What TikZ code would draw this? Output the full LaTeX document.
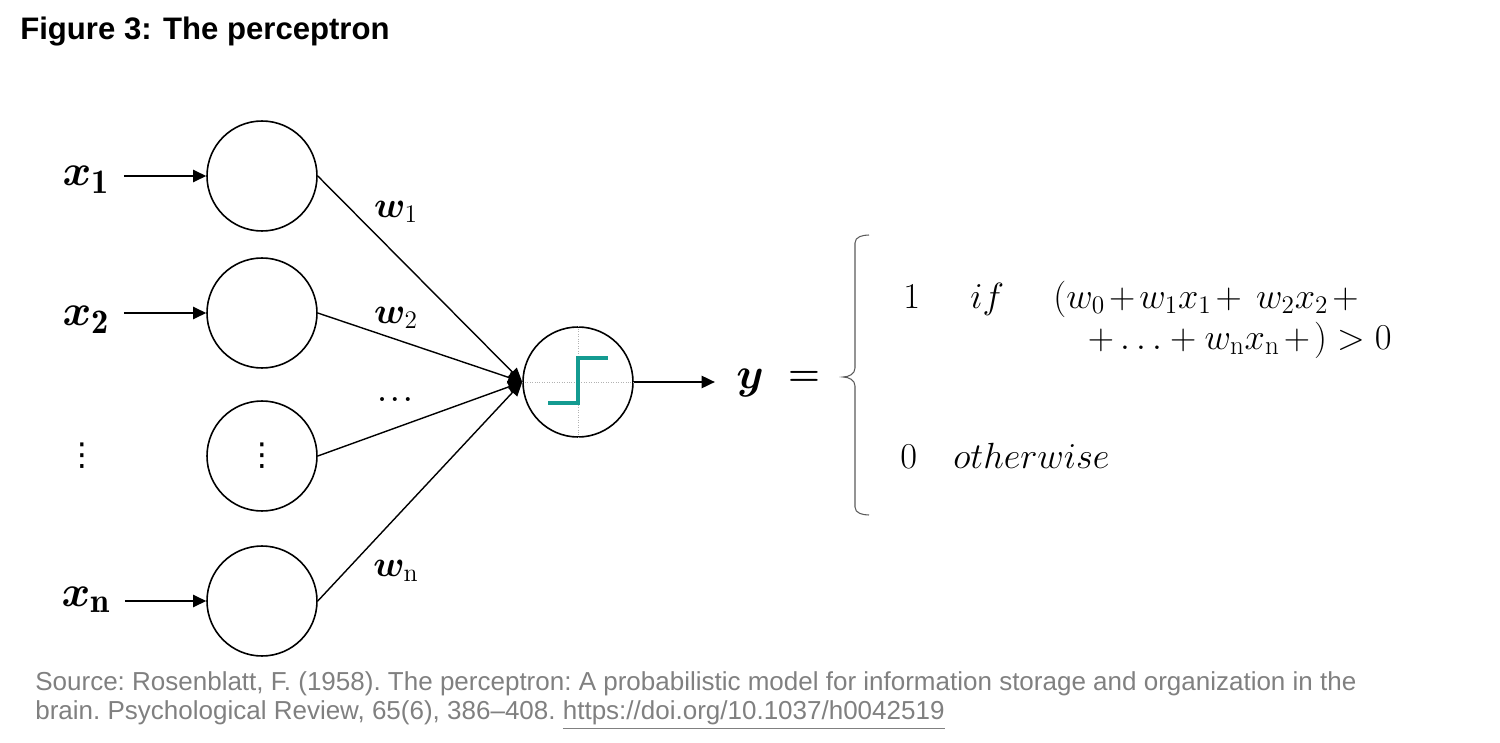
\documentclass[tikz,border=0pt]{standalone}
\usepackage{amsmath}
\usepackage{amssymb}
\usepackage{bm}
\usepackage{fontspec}
\newfontfamily\arialfont{Liberation Sans}
\newfontfamily\dejavufont{DejaVu Sans}
\usetikzlibrary{arrows.meta,positioning}
\definecolor{stepteal}{RGB}{20,155,145}
\definecolor{srcgray}{RGB}{128,128,128}
\definecolor{bracegray}{RGB}{90,90,90}
\newcommand{\tplus}{\mkern2mu{+}\mkern2mu}

\begin{document}
\begin{tikzpicture}[x=0.02cm,y=-0.02cm,
                unit/.style={draw,circle,line width=0.9pt,minimum size=2.2cm,inner sep=0pt},
                arr/.style={-{Triangle[length=7.5pt,width=7pt]},line width=0.9pt},
                wt/.style={-{Triangle[length=8pt,width=7pt]},line width=0.8pt},
                inlab/.style={font=\fontsize{28}{30}\selectfont,inner sep=1pt},
                wlab/.style={font=\fontsize{21}{22}\selectfont,inner sep=0pt},
                vdotlab/.style={font=\dejavufont\fontsize{18}{20}\selectfont,inner sep=0pt},
                eq/.style={font=\fontsize{22}{24}\selectfont,inner sep=0pt,anchor=base west},
                axis/.style={draw=gray!60,densely dotted,line width=0.4pt},
                stepfn/.style={draw=stepteal,line width=2.2pt},
                brace/.style={draw=bracegray,line width=0.6pt},
                every node/.style={black}
            ]
                \useasboundingbox (0,0) rectangle (1500,743);

                \node[anchor=base west,inner sep=0pt,font=\arialfont\bfseries\fontsize{17.7}{20}\selectfont] (title) at (20,40) {Figure 3: The perceptron};

                \node[unit] (c1) at (262,176) {};
                \node[unit] (c2) at (262,313) {};
                \node[unit] (c3) at (262,456) {};
                \node[unit] (c4) at (262,601) {};
                \node[vdotlab] (cd) at (c3) {⋮};

                \node[inlab] (x1) at (86,180) {$\bm{x}_{\mathbf{1}}$};
                \node[inlab] (x2) at (86,320) {$\bm{x}_{\mathbf{2}}$};
                \node[vdotlab] (xd) at (82,456) {⋮};
                \node[inlab] (xn) at (86,600) {$\bm{x}_{\mathbf{n}}$};

                \draw[arr,shorten <=7pt] (x1.east |- c1) -- (c1.west);
                \draw[arr,shorten <=7pt] (x2.east |- c2) -- (c2.west);
                \draw[arr,shorten <=7pt] (xn.east |- c4) -- (c4.west);

                \node[unit] (sum) at (578,382) {};
                \draw[axis] (sum.west) -- (sum.east);
                \draw[axis] (sum.north) -- (sum.south);
                \draw[stepfn] (548,403) -- (578,403) -- (578,358) -- (608,358);

                \draw[wt] (c1.east) -- (sum.west);
                \draw[wt] (c2.east) -- (sum.west);
                \draw[wt] (c3.east) -- (sum.west);
                \draw[wt] (c4.east) -- (sum.west);

                \node[wlab] (w1) at (396,212) {$\bm{w}_{1}$};
                \node[wlab] (w2) at (396,318) {$\bm{w}_{2}$};
                \node[wlab,font=\fontsize{15}{16}\selectfont] (wd) at (395,400) {$\bm{\ldots}$};
                \node[wlab] (wn) at (396,571) {$\bm{w}_{\mathrm{n}}$};

                \node[inlab] (y) at (750,383) {$\bm{y}$};
                \node[inlab,font=\fontsize{22}{24}\selectfont] (eqs) at (804,378) {$\bm{=}$};
                \draw[arr,shorten >=11pt] (sum.east) -- (y.west |- sum.east);

                \draw[brace] (869,235) to[out=180,in=90] (855,243) -- (855,368)
                    to[out=-90,in=0] (843,377) to[out=0,in=90] (855,386) -- (855,507)
                    to[out=-90,in=180] (869,515);

                \node[eq] (one) at (903,308) {$1$};
                \node[eq] (if) at (970,308) {$if$};
                \node[eq] (cond1) at (1053,308) {$(w_0\tplus w_1x_1\tplus\; w_2x_2\tplus$};
                \node[eq,anchor=base east] (cond2) at (1392,349) {$+ \ldots + w_{\mathrm{n}}x_{\mathrm{n}}\tplus) > 0$};
                \node[eq] (zero) at (900,468) {$0$};
                \node[eq] (other) at (953,468) {$otherwise$};

                \node[anchor=north west,align=left,inner sep=0pt,text=srcgray,font=\arialfont\frenchspacing\fontsize{14.8}{16.5}\selectfont] (src) at (35,671)
                    {Source: Rosenblatt, F. (1958). The perceptron: A probabilistic model for information storage and organization in the\\
                    brain. Psychological Review, 65(6), 386–408. \underline{https://doi.org/10.1037/h0042519}};
            \end{tikzpicture}
\end{document}
